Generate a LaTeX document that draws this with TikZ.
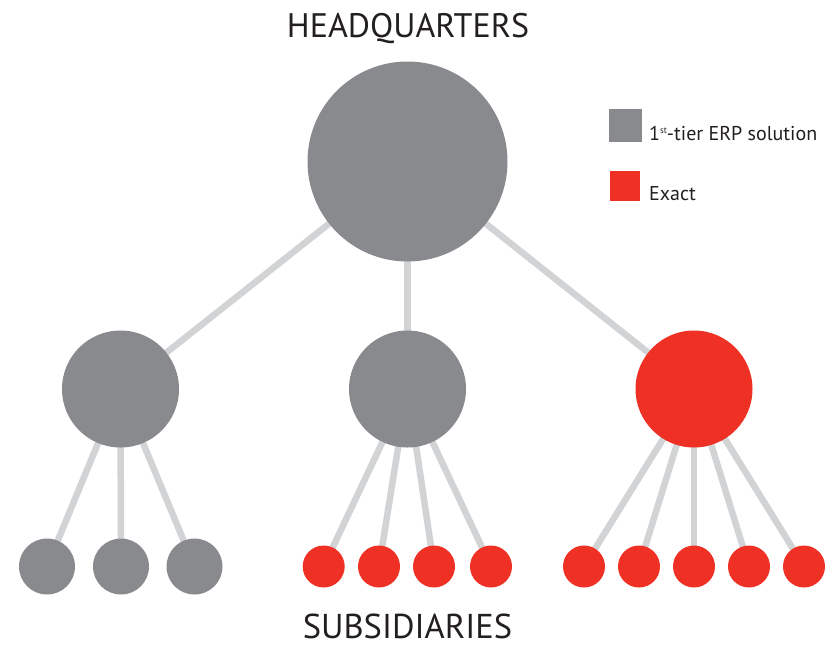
\documentclass[tikz,border=0pt]{standalone}
\usepackage{fontspec}
\setmainfont{PT Sans}
\usetikzlibrary{positioning, backgrounds}
\definecolor{erpgray}{HTML}{898A8E}
\definecolor{exactred}{HTML}{EE3124}
\definecolor{linkgray}{HTML}{D1D3D4}
\definecolor{textdark}{HTML}{231F20}
\tikzset{
dot/.style={circle, inner sep=0pt, draw=none}, % every company is a plain disc
erp/.style={dot, fill=erpgray}, % 1st-tier ERP
exact/.style={dot, fill=exactred}, % Exact
link/.style={draw=linkgray, line width=6.5pt}, % the light grey spokes
keybox/.style={inner sep=0pt, draw=none}, % legend squares
label/.style={text=textdark, inner sep=0pt}, % all text
}

\begin{document}
\begin{tikzpicture}[x=1pt, y=-1pt]
        \useasboundingbox (0,0) rectangle (830,649);
        % headquarters and the three subsidiaries below it
        \node[erp, minimum size=200pt] (hq) at (407.5,161.5) {};
        \node[erp, minimum size=117pt] (left) at (120.5,389) {};
        \node[erp, minimum size=117pt] (mid) at (407.5,389) {};
        \node[exact, minimum size=117pt] (right) at (694,389) {};
        % bottom row
        \foreach \x [count=\i] in {47,121,194.5}
                \node[erp, minimum size=56pt] (l\i) at (\x,566.5) {};
        \foreach \x [count=\i] in {323.7,379,434,491}
                \node[exact, minimum size=42pt] (m\i) at (\x,566.5) {};
        \foreach \x [count=\i] in {584,639,694,749,804}
                \node[exact, minimum size=42pt] (r\i) at (\x,566.5) {};
        \begin{scope}[on background layer]
                \foreach \s in {left,mid,right}
                        \draw[link] (hq.center) -- (\s.center);
                \foreach \i in {1,...,3}
                        \draw[link] (left.center) -- (l\i.center);
                \foreach \i in {1,...,4}
                        \draw[link] (mid.center) -- (m\i.center);
                \foreach \i in {1,...,5}
                        \draw[link] (right.center) -- (r\i.center);
        \end{scope}
        % legend
        \node[keybox, fill=erpgray, minimum size=33pt] (keyerp) at (625,125.5) {};
        \node[keybox, fill=exactred, minimum size=30pt] (keyexact) at (625,185.5) {};
        \node[label, anchor=base west, font=\fontsize{20}{24}\selectfont] (txterp) at (649,140)
                {1\raisebox{7pt}{\fontsize{9}{9}\selectfont st}-tier ERP solution};
        \node[label, anchor=base west, font=\fontsize{20}{24}\selectfont] (txtexact) at (649,200) {Exact};
        % titles
        \node[label, anchor=base, font=\fontsize{34}{40}\selectfont] (title) at (408,37) {HEADQUARTERS};
        \node[label, anchor=base, font=\fontsize{34.5}{40}\selectfont] (footer) at (407.5,638) {SUBSIDIARIES};
\end{tikzpicture}
\end{document}
